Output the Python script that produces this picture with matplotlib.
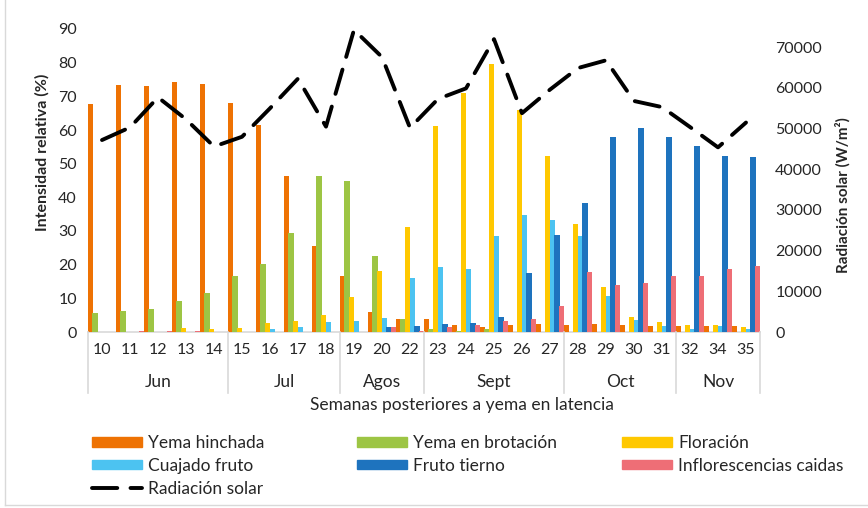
import numpy as np
import matplotlib
matplotlib.use("Agg")
import matplotlib.pyplot as plt
from matplotlib.transforms import blended_transform_factory
from matplotlib.lines import Line2D
from matplotlib.patches import Patch

plt.rcParams["font.family"] = ["Lato", "DejaVu Sans"]

# Datos
semanas = ["10", "11", "12", "13", "14", "15", "16", "17", "18", "19", "20", "22",
           "23", "24", "25", "26", "27", "28", "29", "30", "31", "32", "34", "35"]
meses = ["Jun", "Jul", "Agos", "Sept", "Oct", "Nov"]
semanas_por_mes = [5, 4, 3, 5, 4, 3]

yema_hinchada = [67.7, 73.4, 73.0, 74.4, 73.7, 68.0, 61.6, 46.4, 25.5, 16.6, 5.9, 3.8,
                 3.8, 2.1, 1.4, 2.1, 2.4, 2.1, 2.5, 2.1, 1.8, 1.8, 1.8, 1.8]
yema_brotacion = [5.7, 6.1, 6.7, 9.2, 11.6, 16.6, 20.2, 29.5, 46.4, 45.0, 22.5, 3.8,
                  0.8, 0.4, 0.8, 0, 0, 0, 0, 0, 0, 0, 0, 0]
floracion = [0, 0, 0, 1.1, 0.9, 1.2, 2.7, 3.3, 5.0, 10.3, 18.2, 31.1,
             61.2, 71.1, 79.7, 65.9, 52.2, 32.1, 13.4, 4.6, 2.9, 2.1, 2.1, 1.4]
cuajado_fruto = [0, 0, 0, 0, 0, 0, 0.8, 1.4, 3.0, 3.3, 4.2, 16.0,
                 19.2, 18.6, 28.4, 34.9, 33.4, 28.4, 10.7, 3.6, 1.8, 0.9, 1.8, 0.9]
fruto_tierno = [0, 0, 0, 0, 0, 0, 0, 0, 0, 0, 1.4, 1.8,
                2.4, 2.7, 4.4, 17.5, 28.7, 38.4, 57.8, 60.7, 57.8, 55.2, 52.4, 52.1]
inflorescencias = [0, 0.3, 0.3, 0.3, 0, 0, 0, 0, 0, 0, 1.4, 0.4,
                   1.4, 2.1, 3.3, 3.9, 7.7, 17.7, 14.1, 14.5, 16.7, 16.6, 18.6, 19.6]
radiacion = [47200, 50300, 57700, 52300, 45600, 48000, 55000, 62300, 50500, 74300, 67600, 50200,
             57300, 59900, 72000, 53800, 59600, 64900, 66800, 56800, 55300, 50400, 45400, 51500]

series = [
    ("Yema hinchada", yema_hinchada, "#EE7203"),
    ("Yema en brotación", yema_brotacion, "#9DC544"),
    ("Floración", floracion, "#FFC800"),
    ("Cuajado fruto", cuajado_fruto, "#4CC3F1"),
    ("Fruto tierno", fruto_tierno, "#1E73BE"),
    ("Inflorescencias caidas", inflorescencias, "#EE6E76"),
]

W, H = 868, 508
fig = plt.figure(figsize=(W / 100, H / 100), dpi=100)
ax = fig.add_axes([88 / W, 1 - 332 / H, 672 / W, 303 / H])
ax2 = ax.twinx()

x = np.arange(len(semanas))
paso = 0.165
ancho = 0.19
for k, (nombre, vals, color) in enumerate(series):
    ax.bar(x + (k - 2.5) * paso, vals, width=ancho, color=color, zorder=2)

ax2.plot(x, radiacion, color="black", lw=2.8, dashes=(6.5, 3.4),
         dash_capstyle="round", solid_capstyle="round")

ax.set_xlim(-0.5, len(semanas) - 0.5)
ax.set_ylim(0, 90)
ax.set_yticks(range(0, 91, 10))
ax2.set_ylim(0, 74500)
ax2.set_yticks(range(0, 70001, 10000))

for a in (ax, ax2):
    for s in a.spines.values():
        s.set_visible(False)

gris = "#d9d9d9"
txt = "#262626"
ax.axhline(0, color=gris, lw=1.2, zorder=1, clip_on=False)

ax.set_xticks(x, semanas)
ax.tick_params(axis="x", length=0, pad=8, labelsize=11.5, labelcolor=txt)
ax.tick_params(axis="y", length=0, pad=8, labelsize=11.5, labelcolor=txt)
ax2.tick_params(axis="y", length=0, pad=11, labelsize=11.5, labelcolor=txt)

# Eje de categorias en dos niveles
trans = blended_transform_factory(ax.transData, ax.transAxes)
bordes = np.concatenate([[0], np.cumsum(semanas_por_mes)]) - 0.5
for b in bordes:
    ax.plot([b, b], [0, -61 / 303], transform=trans, color=gris, lw=1.2, clip_on=False)
for i, mes in enumerate(meses):
    centro = (bordes[i] + bordes[i + 1]) / 2
    ax.text(centro, -50 / 303, mes, transform=trans, ha="center", va="center",
            fontsize=12.5, color=txt)

fig.text(462 / W, 1 - 405 / H, "Semanas posteriores a yema en latencia",
         ha="center", va="center", fontsize=12.5, color=txt)
fig.text(42 / W, 1 - 152 / H, "Intensidad relativa (%)", rotation=90,
         ha="center", va="center", fontsize=11.5, fontweight="bold", color=txt)
fig.text(843 / W, 1 - 195 / H, "Radiación solar (W/m²)", rotation=90,
         ha="center", va="center", fontsize=11, fontweight="bold", color=txt)

# Leyenda en tres columnas
linea = Line2D([], [], color="black", lw=2.8, dashes=(6.5, 3.4), dash_capstyle="round")
h = [Patch(color=c) for _, _, c in series]
lab = [n for n, _, _ in series]
columnas = [
    ([h[0], h[3], linea], [lab[0], lab[3], "Radiación solar"], 92),
    ([h[1], h[4]], [lab[1], lab[4]], 357),
    ([h[2], h[5]], [lab[2], lab[5]], 622),
]
for hs, ls, x0 in columnas:
    leg = fig.legend(hs, ls, loc="upper left", bbox_to_anchor=(x0 / W, 1 - 435 / H),
                     frameon=False, fontsize=12.5, handlelength=2.88, handleheight=0.46,
                     handletextpad=0.35, labelspacing=0.4, borderpad=0, borderaxespad=0)
    for t in leg.get_texts():
        t.set_color(txt)

# Borde del grafico
fig.add_artist(Line2D([5 / W, 5 / W], [3 / H, 1], color=gris, lw=1))
fig.add_artist(Line2D([5 / W, 1], [3 / H, 3 / H], color=gris, lw=1))

fig.savefig("out.png", dpi=100)
